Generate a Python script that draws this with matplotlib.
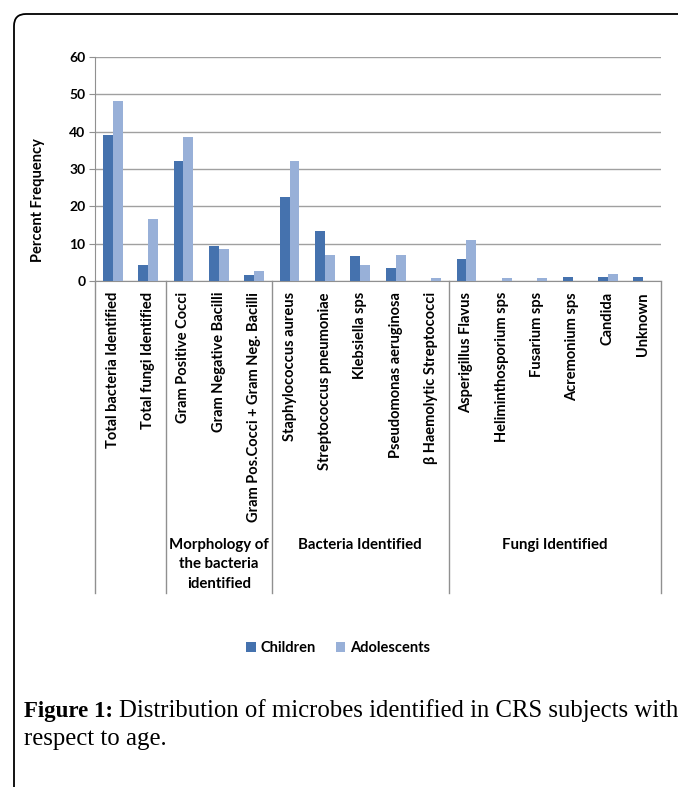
import numpy as np
import matplotlib.pyplot as plt
from matplotlib.patches import FancyBboxPatch

# data
categories = [
    "Total bacteria Identified", "Total fungi Identified",
    "Gram Positive Cocci", "Gram Negative Bacilli", "Gram Pos.Cocci + Gram Neg. Bacilli",
    "Staphylococcus aureus", "Streptococcus pneumoniae", "Klebsiella sps",
    "Pseudomonas aeruginosa", "\u03b2 Haemolytic Streptococci",
    "Asperigillus Flavus", "Heliminthosporium sps", "Fusarium sps",
    "Acremonium sps", "Candida", "Unknown",
]
children = [39.2, 4.4, 32.2, 9.4, 1.7, 22.6, 13.5, 6.8, 3.4, 0.0,
            5.8, 0.0, 0.0, 1.2, 1.2, 1.2]
adolescents = [48.1, 16.5, 38.5, 8.5, 2.8, 32.2, 7.0, 4.2, 7.0, 0.9,
               11.1, 0.9, 0.9, 0.0, 2.0, 0.0]
groups = ["", "Morphology of\nthe bacteria\nidentified", "Bacteria Identified", "Fungi Identified"]
group_bounds = [(-0.5, 1.5), (1.5, 4.5), (4.5, 9.5), (9.5, 15.5)]

C_CHILD = "#4572ae"
C_ADOL = "#98b0d8"
FONT = "Lato"
SERIF = "Liberation Serif"

W, H = 678, 787
fig = plt.figure(figsize=(W / 100, H / 100), dpi=100)

# background layer in pixel coordinates (border + caption)
bg = fig.add_axes([0, 0, 1, 1], zorder=0)
bg.set_xlim(0, W)
bg.set_ylim(H, 0)
bg.axis("off")
bg.add_patch(FancyBboxPatch((14, 14), W + 40, H + 40,
                            boxstyle="round,pad=0,rounding_size=12",
                            fc="white", ec="black", lw=1.3))
t_fig = bg.text(24, 711, "Figure 1:", fontsize=16.5, fontweight="bold",
                family=SERIF, va="center", ha="left")
fig.canvas.draw()
bb = t_fig.get_window_extent()
bg.text(bb.x1 + 6, 711, "Distribution of microbes identified in CRS subjects with",
        fontsize=17.8, family=SERIF, va="center", ha="left")
bg.text(24, 739, "respect to age.", fontsize=17.8, family=SERIF,
        va="center", ha="left")

# chart axes
x0, x1, ytop, ybot = 95, 661, 57, 281
ax = fig.add_axes([x0 / W, 1 - ybot / H, (x1 - x0) / W, (ybot - ytop) / H], zorder=1)
ax.patch.set_alpha(0)

x = np.arange(len(categories))
bw = 0.28
b1 = ax.bar(x - bw / 2, children, bw, color=C_CHILD, label="Children", zorder=3)
b2 = ax.bar(x + bw / 2, adolescents, bw, color=C_ADOL, label="Adolescents", zorder=3)

ax.set_xlim(-0.5, len(categories) - 0.5)
ax.set_ylim(0, 60)
ax.set_yticks(range(0, 61, 10))
ax.yaxis.grid(True, color="#a0a0a0", lw=1.0, zorder=0)
ax.set_axisbelow(True)
for s in ["top", "right"]:
    ax.spines[s].set_visible(False)
ax.spines["left"].set_color("#909090")
ax.spines["bottom"].set_color("#909090")
ax.tick_params(axis="y", length=4, color="#909090", pad=3)
ax.tick_params(axis="x", length=0)
for lab in ax.get_yticklabels():
    lab.set_family(FONT)
    lab.set_fontweight("bold")
    lab.set_fontsize(10)
ax.set_xticks([])

ax.set_ylabel("Percent Frequency", family=FONT, fontweight="bold", fontsize=10.5)
ax.yaxis.set_label_coords(-0.088, (ybot - 200) / (ybot - ytop))

# category labels (rotated) under the axis
trans = ax.get_xaxis_transform()
y_lab = -(292 - ybot) / (ybot - ytop)
for xi, name in zip(x, categories):
    ax.text(xi, y_lab, name, rotation=90, ha="center", va="top",
            transform=trans, family=FONT, fontweight="bold", fontsize=10.5,
            clip_on=False)

# group separators and group labels
y_sep = -(593 - ybot) / (ybot - ytop)
seps = sorted(set([b for pair in group_bounds for b in pair]))
for s in seps:
    ax.plot([s, s], [0, y_sep], color="#909090", lw=1.0, transform=trans, clip_on=False)
y_grp = -(538 - ybot) / (ybot - ytop)
for (a, b), g in zip(group_bounds, groups):
    if g:
        ax.text((a + b) / 2, y_grp, g, ha="center", va="top", transform=trans,
                family=FONT, fontweight="bold", fontsize=10.8, linespacing=1.5,
                clip_on=False)

# legend
fig.legend(handles=[b1, b2], loc="center", bbox_to_anchor=(338 / W, 1 - 648 / H),
           ncol=2, frameon=False, handlelength=0.65, handleheight=0.65,
           handletextpad=0.3, columnspacing=1.4,
           prop={"family": FONT, "weight": "bold", "size": 10.5})

fig.savefig("out.png", dpi=100)
